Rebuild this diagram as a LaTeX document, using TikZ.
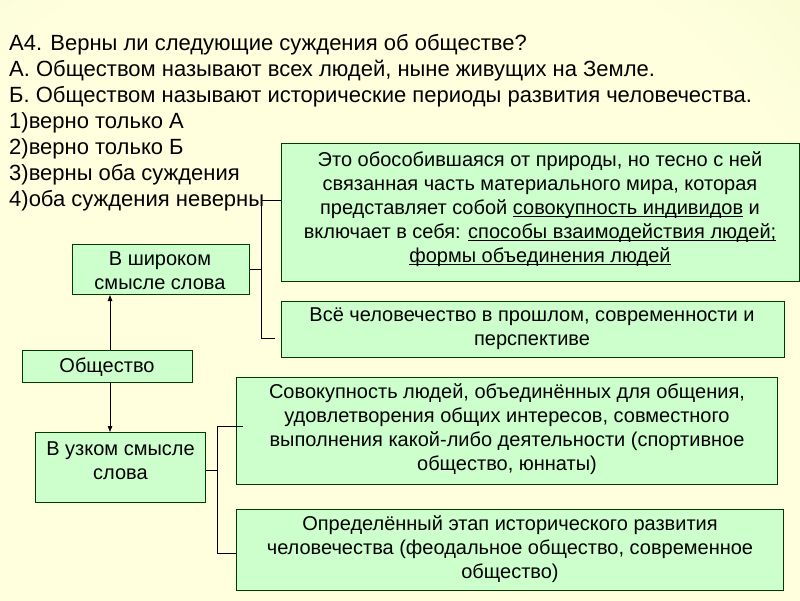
\documentclass[tikz,border=0pt]{standalone}
\usepackage{fontspec}
\setmainfont{Liberation Sans}
\usetikzlibrary{arrows.meta}
\definecolor{boxfill}{RGB}{204,255,204}
\definecolor{boxline}{RGB}{0,60,0}
\definecolor{bgin}{RGB}{255,255,222}
\definecolor{bgout}{RGB}{224,238,172}
\pgfdeclareradialshading{bgshade}{\pgfpoint{0bp}{0bp}}{color(0bp)=(bgin); color(11bp)=(bgin); color(25bp)=(bgout); color(50bp)=(bgout)}
\newcommand\myul[1]{\setbox0\hbox{#1}\rlap{\rule[-3pt]{\wd0}{1pt}}\box0\relax}
\begin{document}
\begin{tikzpicture}[x=1pt,y=-1pt,
  box/.style={draw=boxline, fill=boxfill, line width=1pt, inner sep=0pt},
  txt/.style={font=\fontsize{20}{24}\selectfont, align=center, inner sep=0pt},
  ttl/.style={font=\fontsize{22}{26}\selectfont, anchor=base west, inner sep=0pt},
  conn/.style={line width=1pt, black},
  arr/.style={conn, -{Triangle[length=6pt,width=4.5pt]}}]
\useasboundingbox (0,0) rectangle (800,600);
\fill[bgout] (0,0) rectangle (800,600);
\begin{scope}
\clip (0,0) rectangle (800,600);
\shade[shading=bgshade] (360,420) circle (1120);
\end{scope}
% title
\node[ttl] (q1) at (9,50) {А4. Верны ли следующие суждения об обществе?};
\node[ttl] (q2) at (9,76) {А. Обществом называют всех людей, ныне живущих на Земле.};
\node[ttl] (q3) at (9,102) {Б. Обществом называют исторические периоды развития человечества.};
\node[ttl] (q4) at (9,128) {1)верно только А};
\node[ttl] (q5) at (9,154) {2)верно только Б};
\node[ttl] (q6) at (9,180) {3)верны оба суждения};
\node[ttl] (q7) at (9,206) {4)оба суждения неверны};
% boxes
\node[box, minimum width=518.5, minimum height=138] (w1) at (540.25,212) {};
\node[box, minimum width=503, minimum height=56] (w2) at (532.5,329) {};
\node[box, minimum width=177, minimum height=50.5] (shir) at (161,269.25) {};
\node[box, minimum width=170, minimum height=32] (obsh) at (107.5,366.5) {};
\node[box, minimum width=170, minimum height=70] (uzk) at (120.6,467.5) {};
\node[box, minimum width=541, minimum height=107] (n1) at (507.4,430.5) {};
\node[box, minimum width=547, minimum height=80.5] (n2) at (510.4,549.8) {};
% texts
\node[txt] (w1t) at (540,209) {Это обособившаяся от природы, но тесно с ней\\ связанная часть материального мира, которая\\ представляет собой \myul{совокупность индивидов} и\\ включает в себя: \myul{способы взаимодействия людей;}\\ \myul{формы объединения людей}};
\node[txt] (w2t) at (532,329) {Всё человечество в прошлом, современности и\\ перспективе};
\node[txt] (shirt) at (160,271) {В широком\\ смысле слова};
\node[txt] (obsht) at (107,367) {Общество};
\node[txt] (uzkt) at (120.5,461) {В узком смысле\\ слова};
\node[txt] (n1t) at (507,429) {Совокупность людей, объединённых для общения,\\ удовлетворения общих интересов, совместного\\ выполнения какой-либо деятельности (спортивное\\ общество, юннаты)};
\node[txt] (n2t) at (510,549) {Определённый этап исторического развития\\ человечества (феодальное общество, современное\\ общество)};
% connectors: wide
\coordinate (bw1) at (261,200);
\coordinate (bw2) at (261,338);
\coordinate (be2) at (274.5,338);
\draw[conn] (w1.west |- bw1) -- (bw1) -- (bw2) -- (be2);
\draw[conn] (shir.east) -- (shir.east -| bw1);
% connectors: narrow
\coordinate (bn1) at (217,426);
\coordinate (bn2) at (217,553);
\coordinate (bn1e) at (242.5,426);
\draw[conn] (bn1e) -- (bn1) -- (bn2) -- (n2.west |- bn2);
\draw[conn] ([yshift=-3pt]uzk.east) -- ([yshift=-3pt]uzk.east -| bn1);
% arrows
\draw[arr] ([xshift=2.5pt]obsh.north) -- ([xshift=2.5pt]obsh.north |- shir.south);
\draw[arr] ([xshift=2.5pt]obsh.south) -- ([xshift=2.5pt]obsh.south |- uzk.north);
\end{tikzpicture}
\end{document}
